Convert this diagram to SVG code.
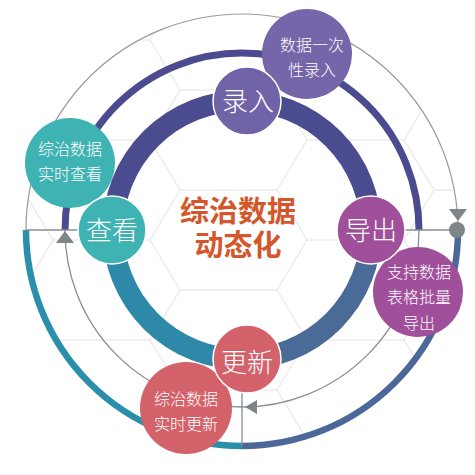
<svg xmlns="http://www.w3.org/2000/svg" width="475" height="475" viewBox="0 0 475 475">
<style>
.hex{fill:none;stroke:#e2e2e2;stroke-width:1}
.ring{fill:none;stroke-linecap:butt}
.gl{fill:none;stroke:#8a8d91;stroke-width:1.3}
.arw{fill:#7f8488}
.main text,.sub text{font-family:"Noto Sans CJK SC","Noto Sans",sans-serif;fill:#fff;text-anchor:middle;dominant-baseline:central}
.main text{font-size:26px;font-weight:300}
.sub text{font-size:16px;font-weight:300}
.main circle{stroke:#fff;stroke-width:1.5}
.title{font-family:"Liberation Sans","Noto Sans CJK SC",sans-serif;font-size:29px;font-weight:700;fill:#d4572b;text-anchor:middle}
</style>
<defs>
<clipPath id="clip"><circle cx="242" cy="230" r="216"/></clipPath>
</defs>
<rect width="475" height="475" fill="#fff"/>
<g id="hexgrid" clip-path="url(#clip)" class="hex">
<path d="M23,-10 L53,40 L23,90 L53,140 L23,190 L53,240 L23,290 L53,340 L23,390 L53,440 L23,490"/>
<path d="M180,-10 L150,40 L180,90 L150,140 L180,190 L150,240 L180,290 L150,340 L180,390 L150,440 L180,490"/>
<path d="M277,-10 L307,40 L277,90 L307,140 L277,190 L307,240 L277,290 L307,340 L277,390 L307,440 L277,490"/>
<path d="M434,-10 L404,40 L434,90 L404,140 L434,190 L404,240 L434,290 L404,340 L434,390 L404,440 L434,490"/>
<path d="M180,90H277M180,190H277M180,290H277M180,390H277M53,40H150M53,140H150M53,240H150M53,340H150M53,440H150M307,40H404M307,140H404M307,240H404M307,340H404M307,440H404M-74,90H23M-74,190H23M-74,290H23M-74,390H23M434,90H531M434,190H531M434,290H531M434,390H531"/>
</g>
<g id="connectors">
<path class="ring" d="M26,230 A216,216 0 0 1 458,230" stroke="#9a9a9a" stroke-width="1.2"/>
<path class="ring" d="M26,230 A216,216 0 0 0 242,446" stroke="#2b8eab" stroke-width="6.5"/>
<path class="ring" d="M242,446 A216,216 0 0 0 458,230" stroke="#4b6898" stroke-width="6.5"/>
<path class="ring" d="M65,230 A177,177 0 0 1 419,230" stroke="#4d4b8f" stroke-width="7"/>
<path class="gl" d="M419,230 A177,177 0 0 1 65,230"/>
<path class="ring" d="M113,230 A129,129 0 0 1 371,230" stroke="#4b4b8f" stroke-width="21"/>
<path class="ring" d="M113,230 A129,129 0 0 0 242,359" stroke="#2e89a8" stroke-width="21"/>
<path class="ring" d="M242,359 A129,129 0 0 0 371,230" stroke="#4a6a97" stroke-width="21"/>
<path class="gl" d="M26,230H82M400,230H457M242,390V446"/>
<polygon class="arw" points="65,231 74,243 56,243"/>
<polygon class="arw" points="245,407 257,400 257,414"/>
<polygon class="arw" points="449,209 467,209 458,221"/>
<circle class="arw" cx="457" cy="230" r="8"/>
</g>
<g id="sub-luru" class="sub"><circle cx="307" cy="54" r="45" fill="#7565a9"/><text x="312" y="44">数据一次</text><text x="312" y="69">性录入</text></g>
<g id="sub-chakan" class="sub"><circle cx="70" cy="163" r="45" fill="#3fb3b3"/><text x="70" y="148">综治数据</text><text x="70" y="173">实时查看</text></g>
<g id="sub-daochu" class="sub"><circle cx="418" cy="292" r="45" fill="#a0509a"/><text x="419" y="271">支持数据</text><text x="419" y="296">表格批量</text><text x="419" y="322">导出</text></g>
<g id="sub-gengxin" class="sub"><circle cx="186" cy="408" r="46" fill="#d3626b"/><text x="186" y="398">综治数据</text><text x="186" y="423">实时更新</text></g>
<g id="node-luru" class="main"><circle cx="247" cy="101" r="34" fill="#7163a7"/><text x="248" y="99">录入</text></g>
<g id="node-chakan" class="main"><circle cx="112" cy="230" r="34" fill="#3fb3b3"/><text x="112" y="228">查看</text></g>
<g id="node-daochu" class="main"><circle cx="371" cy="230" r="34" fill="#a0509a"/><text x="371" y="228">导出</text></g>
<g id="node-gengxin" class="main"><circle cx="247" cy="359" r="34" fill="#d3626b"/><text x="247" y="360">更新</text></g>
<g id="center-title"><text class="title"><tspan x="238" y="222">综治数据</tspan><tspan x="238" y="256">动态化</tspan></text></g>
</svg>
